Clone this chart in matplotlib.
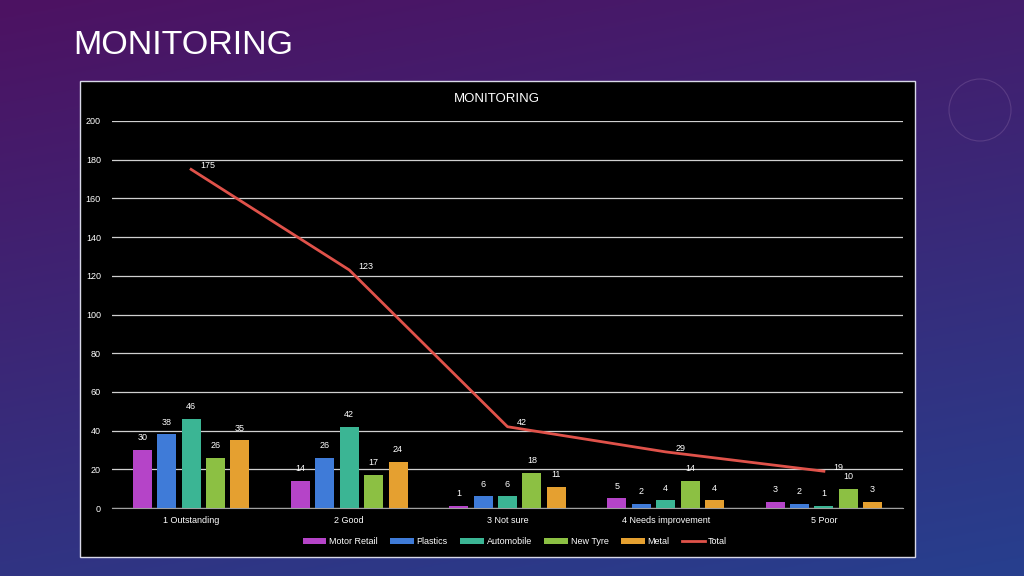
import matplotlib.pyplot as plt
import numpy as np
from matplotlib.patches import Rectangle, Circle

categories = ["1 Outstanding", "2 Good", "3 Not sure", "4 Needs improvement", "5 Poor"]
motor_retail = [30, 14, 1, 5, 3]
plastics = [38, 26, 6, 2, 2]
automobile = [46, 42, 6, 4, 1]
new_tyre = [26, 17, 18, 14, 10]
metal = [35, 24, 11, 4, 3]
total = [175, 123, 42, 29, 19]

series_names = ["Motor Retail", "Plastics", "Automobile", "New Tyre", "Metal"]
series_vals = [motor_retail, plastics, automobile, new_tyre, metal]
colors = ["#b544c8", "#3f7bd8", "#3bb594", "#8cc043", "#e5a030"]
line_color = "#e0524a"

plt.rcParams['font.family'] = ['Liberation Sans', 'DejaVu Sans']

fig = plt.figure(figsize=(10.24, 5.76), dpi=100)

# background gradient: purple top to blue bottom
bg = fig.add_axes([0, 0, 1, 1])
ny, nx = 200, 300
yy, xx = np.mgrid[0:1:ny*1j, 0:1:nx*1j]
t = np.clip(0.75 * yy + 0.25 * xx, 0, 1)
top = np.array([0x4d, 0x12, 0x62]) / 255
bot = np.array([0x27, 0x3f, 0x8e]) / 255
img = top[None, None, :] * (1 - t[..., None]) + bot[None, None, :] * t[..., None]
bg.imshow(img, extent=[0, 1, 0, 1], aspect='auto', origin='upper')
bg.set_xlim(0, 1)
bg.set_ylim(0, 1)
bg.axis('off')
# faint ring decoration, top right
fig.patches.append(Circle((9.8, 5.76 - 1.10), 0.31, transform=fig.dpi_scale_trans,
                          fill=False, edgecolor='#7a5a9a', lw=0.8, alpha=0.45))

fig.text(73 / 1024, 1 - 45 / 576, "MONITORING", color='white', fontsize=24.5,
         va='center', ha='left')

# chart box
bg.add_patch(Rectangle((80 / 1024, 1 - 557 / 576), 835 / 1024, 476 / 576,
                       transform=bg.transAxes, facecolor='black',
                       edgecolor='#d8d8e8', lw=1.0))
fig.text(497 / 1024, 1 - 99 / 576, "MONITORING", color='white', fontsize=9.5,
         ha='center', va='center')

ax = fig.add_axes([112 / 1024, 1 - 508 / 576, 791 / 1024, 387 / 576])
ax.set_facecolor('none')
x = np.arange(len(categories))
width = 0.12
step = 0.154
for i, (name, vals, c) in enumerate(zip(series_names, series_vals, colors)):
    pos = x + (i - 2) * step
    ax.bar(pos, vals, width, color=c, label=name, zorder=3)
    for px, v in zip(pos, vals):
        ax.text(px, v + 4, str(v), color='white', fontsize=6.5, ha='center', va='bottom')

ax.plot(x, total, color=line_color, lw=2, label="Total", zorder=4)
for px, v in zip(x, total):
    ax.text(px + 0.06, v + 2, str(v), color='white', fontsize=6.5, ha='left', va='center', zorder=5)

ax.set_xlim(-0.5, len(categories) - 0.5)
ax.set_ylim(0, 200)
ax.set_yticks(range(0, 201, 20))
ax.grid(axis='y', color='#d0d0d0', lw=0.9, zorder=0)
for s in ['top', 'right', 'left']:
    ax.spines[s].set_visible(False)
ax.spines['bottom'].set_color('#a0a0a0')
ax.set_xticks(x)
ax.set_xticklabels(categories)
ax.tick_params(axis='both', colors='white', labelsize=6.5, length=0)
ax.tick_params(axis='y', pad=8)
ax.tick_params(axis='x', pad=6)

handles, labels = ax.get_legend_handles_labels()
handles = handles[1:] + handles[:1]
labels = labels[1:] + labels[:1]
leg = fig.legend(handles, labels, loc='center', bbox_to_anchor=(515 / 1024, 1 - 542 / 576),
                 ncol=6, frameon=False, fontsize=6.5, labelcolor='white',
                 handlelength=2.6, handleheight=0.6, columnspacing=1.4, handletextpad=0.3)

fig.savefig("out.png", dpi=100)
